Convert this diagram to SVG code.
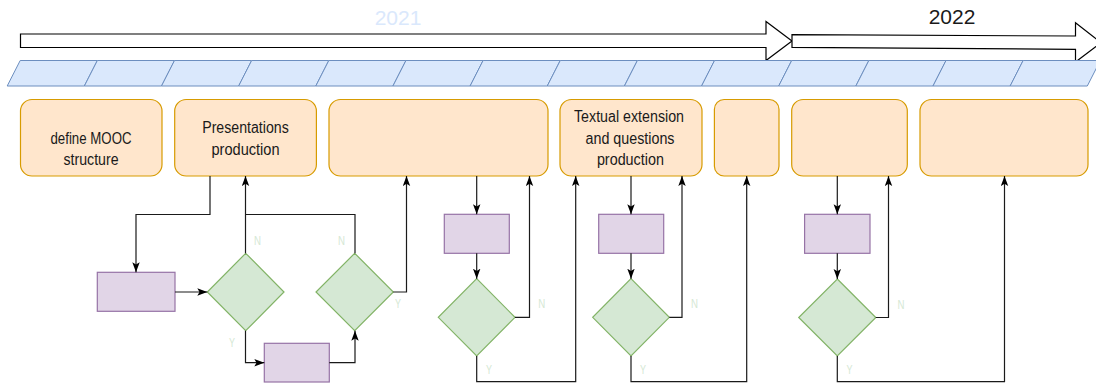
<svg xmlns="http://www.w3.org/2000/svg" width="1096" height="387" viewBox="0 0 1096 387">
  <style>
    .box{fill:#ffe6cc;stroke:#d79b00;stroke-width:1.2}
    .proc{fill:#e1d5e7;stroke:#9673a6;stroke-width:1.2}
    .dec{fill:#d5e8d4;stroke:#82b366;stroke-width:1.2}
    .seg{fill:#dae8fc;stroke:#6c8ebf;stroke-width:1}
    .tl{fill:#ffffff;stroke:#000000;stroke-width:1.2}
    .lbl{font-family:"Liberation Sans Narrow","Liberation Sans",Arial,sans-serif;font-size:16px;fill:#1a1a1a;text-anchor:middle}
    .yn{font-family:"Liberation Sans Narrow","Liberation Sans",Arial,sans-serif;font-size:13px;fill:#d5e8d4}
    .year{font-family:"Liberation Sans",Arial,sans-serif;font-size:21px;text-anchor:middle}
    .edge{fill:none;stroke:#1a1a1a;stroke-width:1.2;marker-end:url(#arr)}
    .edge2{fill:none;stroke:#1a1a1a;stroke-width:1.2}
  </style>
  <defs>
    <marker id="arr" markerUnits="userSpaceOnUse" markerWidth="11" markerHeight="9" refX="10" refY="4" orient="auto">
      <path d="M0,0.3 L10,4 L0,7.7 L2.2,4 Z" fill="#000000"/>
    </marker>
  </defs>

  <!-- timeline -->
  <g id="year2021">
    <polygon class="tl" points="20.5,34 766,34 766,21.5 792,41 766,60.5 766,47.5 20.5,47.5"/>
    <text class="year" x="398" y="25" fill="#dae8fc">2021</text>
  </g>
  <g id="year2022">
    <polygon class="tl" points="792,34.7 1075.5,36 1075.5,22.7 1101,42.6 1075.5,62 1075.5,49.3 792,47.3"/>
    <text class="year" x="952" y="24" fill="#1a1a1a">2022</text>
  </g>
  <g id="months">
    <polygon class="seg" points="20.2,60.5 97.35,60.5 84.35,86 7.2,86"/>
    <polygon class="seg" points="97.35,60.5 174.5,60.5 161.5,86 84.35,86"/>
    <polygon class="seg" points="174.5,60.5 251.65,60.5 238.65,86 161.5,86"/>
    <polygon class="seg" points="251.65,60.5 328.8,60.5 315.8,86 238.65,86"/>
    <polygon class="seg" points="328.8,60.5 405.95,60.5 392.95,86 315.8,86"/>
    <polygon class="seg" points="405.95,60.5 483.1,60.5 470.1,86 392.95,86"/>
    <polygon class="seg" points="483.1,60.5 560.25,60.5 547.25,86 470.1,86"/>
    <polygon class="seg" points="560.25,60.5 637.4,60.5 624.4,86 547.25,86"/>
    <polygon class="seg" points="637.4,60.5 714.55,60.5 701.55,86 624.4,86"/>
    <polygon class="seg" points="714.55,60.5 791.7,60.5 778.7,86 701.55,86"/>
    <polygon class="seg" points="791.7,60.5 868.85,60.5 855.85,86 778.7,86"/>
    <polygon class="seg" points="868.85,60.5 946,60.5 933,86 855.85,86"/>
    <polygon class="seg" points="946,60.5 1023.15,60.5 1010.15,86 933,86"/>
    <polygon class="seg" points="1023.15,60.5 1100.3,60.5 1087.3,86 1010.15,86"/>
  </g>

  <!-- phase boxes -->
  <g id="box1">
    <rect class="box" x="20.5" y="99.5" width="141.5" height="76.5" rx="11.5"/>
    <text class="lbl" x="91" y="144.3" textLength="81" lengthAdjust="spacingAndGlyphs">define MOOC</text>
    <text class="lbl" x="91" y="165" textLength="55" lengthAdjust="spacingAndGlyphs">structure</text>
  </g>
  <g id="box2">
    <rect class="box" x="174.7" y="99.5" width="141.7" height="76.5" rx="11.5"/>
    <text class="lbl" x="245.5" y="133.3" textLength="86.6" lengthAdjust="spacingAndGlyphs">Presentations</text>
    <text class="lbl" x="245.5" y="155" textLength="68" lengthAdjust="spacingAndGlyphs">production</text>
  </g>
  <g id="box3">
    <rect class="box" x="329" y="99.5" width="219" height="76.5" rx="11.5"/>
  </g>
  <g id="box4">
    <rect class="box" x="560" y="99.5" width="142" height="76.5" rx="11.5"/>
    <text class="lbl" x="629" y="122.3" textLength="110" lengthAdjust="spacingAndGlyphs">Textual extension</text>
    <text class="lbl" x="630" y="144.3" textLength="89" lengthAdjust="spacingAndGlyphs">and questions</text>
    <text class="lbl" x="630.4" y="165.2" textLength="67" lengthAdjust="spacingAndGlyphs">production</text>
  </g>
  <g id="box5">
    <rect class="box" x="714.4" y="99.5" width="64.6" height="76.5" rx="9.7"/>
  </g>
  <g id="box6">
    <rect class="box" x="791.7" y="99.5" width="115.6" height="76.5" rx="11.5"/>
  </g>
  <g id="box7">
    <rect class="box" x="920" y="99.5" width="168" height="76.5" rx="11.5"/>
  </g>

  <!-- process / decision nodes -->
  <g id="proc1"><rect class="proc" x="97.3" y="272.3" width="77.7" height="39"/></g>
  <g id="proc2"><rect class="proc" x="264.3" y="343.3" width="65" height="38.7"/></g>
  <g id="proc3"><rect class="proc" x="444.3" y="214.3" width="65" height="39"/></g>
  <g id="proc4"><rect class="proc" x="598.7" y="214.3" width="65" height="39"/></g>
  <g id="proc5"><rect class="proc" x="804.6" y="214.3" width="65.4" height="39"/></g>

  <g id="dec1"><polygon class="dec" points="245.7,253.3 284,292 245.7,330.7 207.3,292"/></g>
  <g id="dec2"><polygon class="dec" points="354.7,253.3 393.3,292 354.7,330.7 316,292"/></g>
  <g id="dec3"><polygon class="dec" points="476.7,278.7 515,317.3 476.7,356 438.3,317.3"/></g>
  <g id="dec4"><polygon class="dec" points="631,278.7 669.3,317.3 631,356 592.7,317.3"/></g>
  <g id="dec5"><polygon class="dec" points="837.3,279 875.8,317.5 837.3,356 798.7,317.5"/></g>

  <!-- connectors -->
  <g id="connectors">
    <path class="edge" d="M210,176 V214.5 H136 V272.3"/>
    <path class="edge" d="M175,292 H207.3"/>
    <path class="edge" d="M245.5,253.3 V176"/>
    <path class="edge2" d="M355,253.3 V214.5 H245.5"/>
    <path class="edge" d="M393.3,292 H406.5 V176"/>
    <path class="edge" d="M245.5,330.7 V362.7 H264.3"/>
    <path class="edge" d="M329.3,362.7 H355 V330.7"/>
    <path class="edge" d="M476.7,176 V214.3"/>
    <path class="edge" d="M476.7,253.3 V278.7"/>
    <path class="edge" d="M515,317.3 H529.5 V176"/>
    <path class="edge" d="M476.7,356 V381.7 H575.7 V176"/>
    <path class="edge" d="M631,176 V214.3"/>
    <path class="edge" d="M631,253.3 V278.7"/>
    <path class="edge" d="M669.3,317.3 H682 V176"/>
    <path class="edge" d="M631,356 V381.7 H746.7 V176"/>
    <path class="edge" d="M837.3,176 V214.3"/>
    <path class="edge" d="M837.3,253.3 V279"/>
    <path class="edge" d="M875.8,317.5 H888.5 V176"/>
    <path class="edge" d="M837.3,356 V381.7 H1004.5 V176"/>

    <text class="yn" x="254" y="245" textLength="7" lengthAdjust="spacingAndGlyphs">N</text>
    <text class="yn" x="338" y="245" textLength="7" lengthAdjust="spacingAndGlyphs">N</text>
    <text class="yn" x="395" y="308.3" textLength="6" lengthAdjust="spacingAndGlyphs">Y</text>
    <text class="yn" x="229" y="347" textLength="6" lengthAdjust="spacingAndGlyphs">Y</text>
    <text class="yn" x="538.3" y="308.3" textLength="7" lengthAdjust="spacingAndGlyphs">N</text>
    <text class="yn" x="486" y="374" textLength="6" lengthAdjust="spacingAndGlyphs">Y</text>
    <text class="yn" x="691" y="308.3" textLength="7" lengthAdjust="spacingAndGlyphs">N</text>
    <text class="yn" x="640" y="374" textLength="6" lengthAdjust="spacingAndGlyphs">Y</text>
    <text class="yn" x="897.6" y="308.8" textLength="7" lengthAdjust="spacingAndGlyphs">N</text>
    <text class="yn" x="846.6" y="374" textLength="6" lengthAdjust="spacingAndGlyphs">Y</text>
  </g>
</svg>
